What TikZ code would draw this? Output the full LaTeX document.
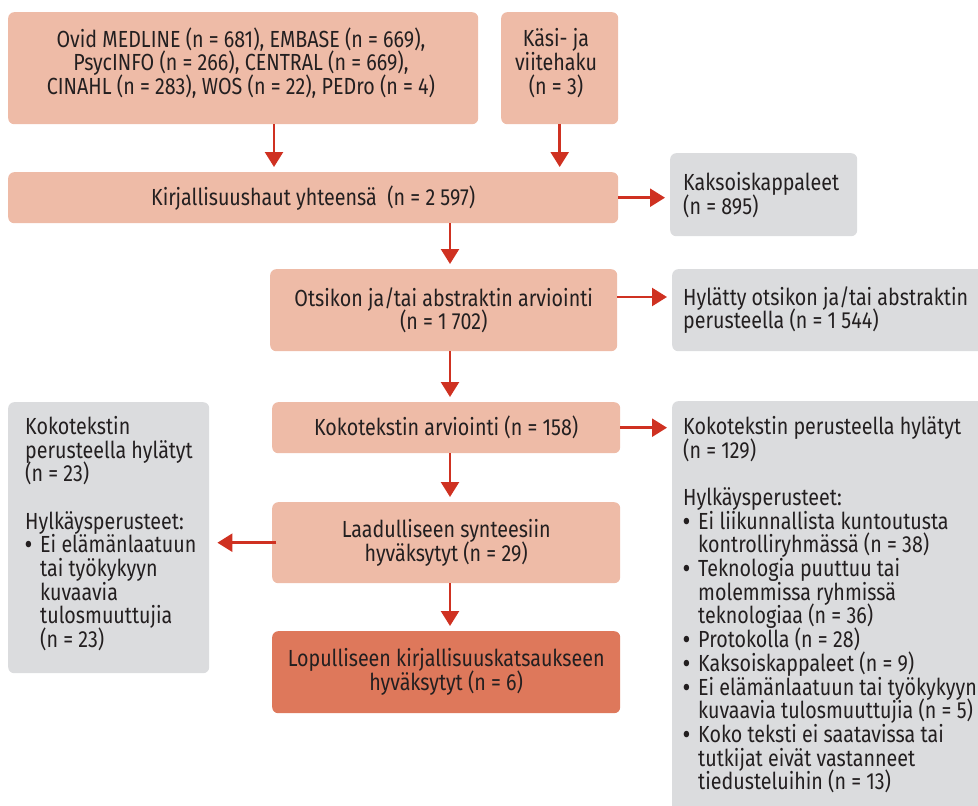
\documentclass[tikz,border=0pt]{standalone}
\usepackage{fontspec}
\setmainfont{Fira Sans}[FakeStretch=0.845]
\usetikzlibrary{arrows.meta}

\definecolor{palebox}{HTML}{EEBBA7}
\definecolor{finalbox}{HTML}{DE785B}
\definecolor{greybox}{HTML}{DBDCDE}
\definecolor{flowred}{HTML}{CF3121}
\definecolor{ink}{HTML}{231F20}

% list bullet with a hanging indent for the continuation lines
\newcommand{\bul}{\makebox[15pt][l]{\bfseries •}}
\newcommand{\ind}{\hspace*{15pt}}
\newcommand{\flowfont}{\fontsize{23.3}{23.7}\selectfont\lineskiplimit=-30pt\relax}

\tikzset{
  box/.style={rectangle, rounded corners=6pt, inner sep=0pt, draw=none,
    anchor=north west, text=ink, align=center, font=\flowfont},
  pale/.style={box, fill=palebox},
  final/.style={box, fill=finalbox},
  grey/.style={box, fill=greybox},
  txt/.style={inner sep=0pt, text=ink, font=\flowfont},
  arr/.style={draw=flowred, line width=2.5pt,
    -{Triangle[width=18pt,length=15pt]}, shorten >=5pt},
}

\begin{document}
\begin{tikzpicture}[x=1pt, y=-1pt]
\clip (0,0) rectangle (978,806);

% sources
\node[pale, minimum width=470, minimum height=112] (src) at (8,12) {};
\node[txt, align=center] (srcT) at (241,63)
  {Ovid MEDLINE (n = 681), EMBASE (n = 669),\\
   PsycINFO (n = 266), CENTRAL (n = 669),\\
   CINAHL (n = 283), WOS (n = 22), PEDro (n = 4)};
\node[pale, minimum width=117, minimum height=112] (hand) at (501,12) {};
\node[txt, align=center] (handT) at (556,63) {Käsi- ja\\ viitehaku\\ (n = 3)};

% main flow
\node[pale, minimum width=610, minimum height=51] (total) at (8,172)
  {Kirjallisuushaut yhteensä~ (n = 2 597)};
\node[pale, minimum width=347, minimum height=82] (screen) at (270,269)
  {Otsikon ja/tai abstraktin arviointi\\ (n = 1 702)};
\node[pale, minimum width=348, minimum height=51] (full) at (272,402)
  {Kokotekstin arviointi (n = 158)};
\node[pale, minimum width=348, minimum height=81] (qual) at (272,502)
  {Laadulliseen synteesiin\\ hyväksytyt (n = 29)};
\node[final, minimum width=348, minimum height=82] (incl) at (272,631)
  {Lopulliseen kirjallisuuskatsaukseen\\ hyväksytyt (n = 6)};

% exclusions
\node[grey, minimum width=187, minimum height=83] (dup) at (670,153) {};
\node[txt, align=left, anchor=north west] (dupT) at (683,172)
  {Kaksoiskappaleet\\ (n = 895)};
\node[grey, minimum width=330, minimum height=82] (rej1) at (672,269) {};
\node[txt, align=left, anchor=north west] (rej1T) at (683,286)
  {Hylätty otsikon ja/tai abstraktin\\ perusteella (n = 1 544)};
\node[grey, minimum width=330, minimum height=430] (rej2) at (672,401) {};
\node[txt, align=left, anchor=north west] (rej2T) at (683,416)
  {Kokotekstin perusteella hylätyt\\
   (n = 129)\\[23.7pt]
   Hylkäysperusteet:\\
   \bul Ei liikunnallista kuntoutusta\\
   \ind kontrolliryhmässä (n = 38)\\
   \bul Teknologia puuttuu tai\\
   \ind molemmissa ryhmissä\\
   \ind teknologiaa (n = 36)\\
   \bul Protokolla (n = 28)\\
   \bul Kaksoiskappaleet (n = 9)\\
   \bul Ei elämänlaatuun tai työkykyyn\\
   \ind kuvaavia tulosmuuttujia (n = 5)\\
   \bul Koko teksti ei saatavissa tai\\
   \ind tutkijat eivät vastanneet\\
   \ind tiedusteluihin (n = 13)};
\node[grey, minimum width=201, minimum height=271] (rej3) at (8,402) {};
\node[txt, align=left, anchor=north west] (rej3T) at (25,416)
  {Kokotekstin\\
   perusteella hylätyt\\
   (n = 23)\\[23.7pt]
   Hylkäysperusteet:\\
   \bul Ei elämänlaatuun\\
   \ind tai työkykyyn\\
   \ind kuvaavia\\
   \ind tulosmuuttujia\\
   \ind (n = 23)};

% connectors
\coordinate (srcX) at (274,0);
\coordinate (flowX) at (450,0);
\coordinate (rej1Y) at (0,297);
\draw[arr] (srcX |- src.south) -- (srcX |- total.north);
\draw[arr] (hand.south) -- (hand.south |- total.north);
\draw[arr] (total.east) -- (total.east -| dup.west);
\draw[arr] (flowX |- total.south) -- (flowX |- screen.north);
\draw[arr] (screen.east |- rej1Y) -- (rej1.west |- rej1Y);
\draw[arr] (flowX |- screen.south) -- (flowX |- full.north);
\draw[arr] (full.east) -- (full.east -| rej2.west);
\draw[arr] (flowX |- full.south) -- (flowX |- qual.north);
\draw[arr, shorten <=-4pt, shorten >=8pt] (qual.west) -- (qual.west -| rej3.east);
\draw[arr] (flowX |- qual.south) -- (flowX |- incl.north);
\end{tikzpicture}
\end{document}
